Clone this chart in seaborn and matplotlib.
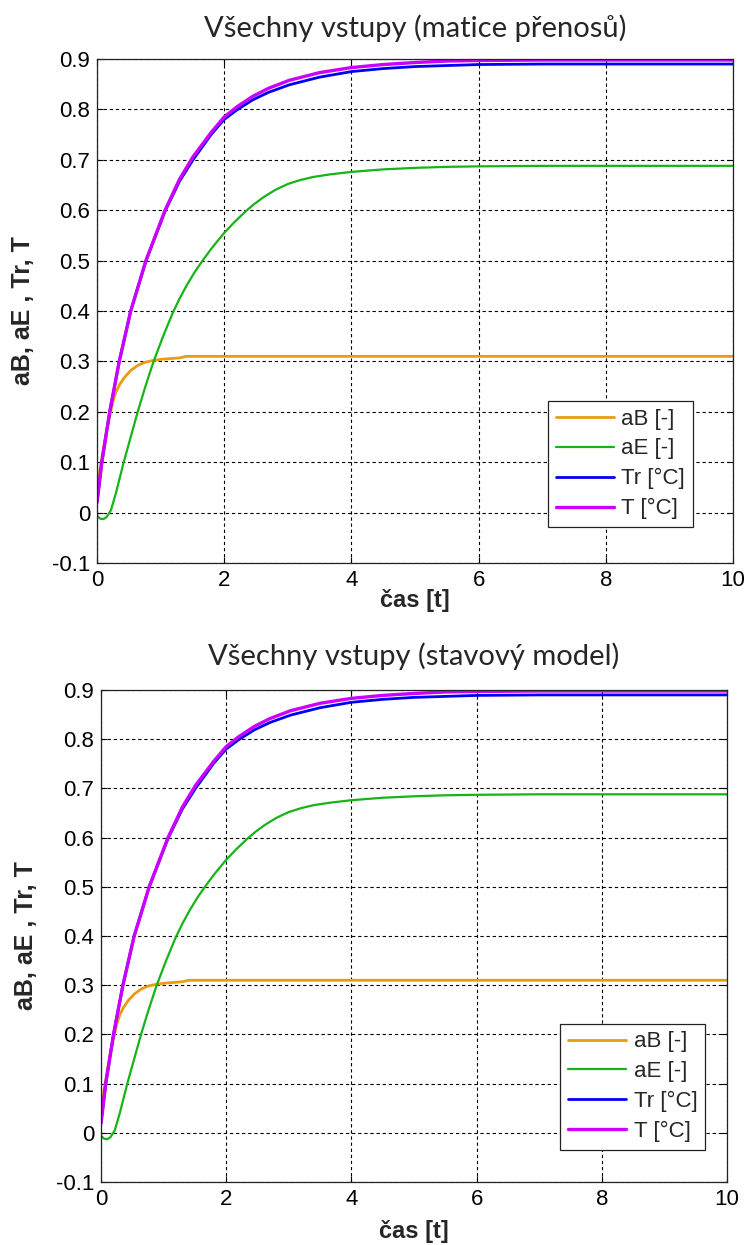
import matplotlib
matplotlib.use("Agg")
import matplotlib.pyplot as plt
import seaborn as sns
import pandas as pd

# ---------------- data ----------------
t_aB = [0, 0.05, 0.1, 0.15, 0.2, 0.25, 0.3, 0.36, 0.43, 0.53, 0.64, 0.75, 0.85, 1.0, 1.3,
        1.4, 2, 4, 6, 8, 10]
aB = [0.05, 0.088, 0.127, 0.162, 0.192, 0.22, 0.24, 0.255, 0.268, 0.282, 0.292, 0.298,
      0.301, 0.304, 0.307, 0.31, 0.31, 0.31, 0.31, 0.31, 0.31]

t_aE = [0, 0.05, 0.1, 0.15, 0.22, 0.3, 0.42, 0.53, 0.64, 0.76, 0.89, 1.04, 1.19, 1.3, 1.42,
        1.54, 1.66, 1.8, 2.0, 2.15, 2.33, 2.47, 2.62, 2.8, 3.0, 3.2, 3.4, 3.66, 4.0, 4.5, 5,
        5.5, 6, 7, 8, 10]
aE = [-0.006, -0.012, -0.013, -0.009, 0.005, 0.04, 0.10, 0.15, 0.20, 0.25, 0.30, 0.35,
      0.396, 0.425, 0.453, 0.478, 0.50, 0.524, 0.555, 0.575, 0.597, 0.612, 0.626, 0.640,
      0.652, 0.66, 0.666, 0.671, 0.676, 0.681, 0.684, 0.686, 0.687, 0.688, 0.688, 0.688]

t_T = [0, 0.076, 0.2, 0.35, 0.53, 0.77, 1.07, 1.3, 1.51, 1.8, 2.0, 2.2, 2.45, 2.7, 3.03,
       3.5, 4.0, 4.5, 5, 5.5, 6, 7, 8, 9, 10]
Tr = [0.02, 0.10, 0.20, 0.30, 0.40, 0.50, 0.598, 0.658, 0.70, 0.751, 0.78, 0.799, 0.819,
      0.834, 0.849, 0.864, 0.875, 0.881, 0.885, 0.887, 0.889, 0.89, 0.89, 0.89, 0.89]
T = [0.02, 0.10, 0.20, 0.30, 0.40, 0.50, 0.60, 0.662, 0.706, 0.755, 0.785, 0.805, 0.826,
     0.842, 0.858, 0.873, 0.883, 0.889, 0.893, 0.896, 0.897, 0.898, 0.898, 0.898, 0.898]

series_labels = ["aB [-]", "aE [-]", "Tr [°C]", "T [°C]"]
series_colors = ["#ea9c10", "#16b416", "#0000f5", "#cc00ff"]
series_widths = [2.0, 1.6, 2.0, 2.4]

x_ticks = [0, 2, 4, 6, 8, 10]
y_ticks = [-0.1, 0, 0.1, 0.2, 0.3, 0.4, 0.5, 0.6, 0.7, 0.8, 0.9]
y_tick_labels = ["-0.1", "0", "0.1", "0.2", "0.3", "0.4", "0.5", "0.6", "0.7", "0.8", "0.9"]

titles = ["Všechny vstupy (matice přenosů)", "Všechny vstupy (stavový model)"]
xlabel = "čas [t]"
ylabel = "aB, aE , Tr, T"

# ---------------- style ----------------
sns.set_style("ticks")
plt.rcParams["font.family"] = ["Liberation Sans", "DejaVu Sans"]

fig = plt.figure(figsize=(7.46, 12.45), dpi=100)
W, H = 746, 1245
ax1 = fig.add_axes([97 / W, 1 - 563 / H, 636 / W, 504 / H])
ax2 = fig.add_axes([101 / W, 1 - 1182 / H, 626 / W, 492 / H])

frames = [
    pd.DataFrame({"t": t_aB, "v": aB}),
    pd.DataFrame({"t": t_aE, "v": aE}),
    pd.DataFrame({"t": t_T, "v": Tr}),
    pd.DataFrame({"t": t_T, "v": T}),
]

layout = [
    dict(ax=ax1, title=titles[0], tpad=16, legend_anchor=(0.937, 0.071),
         ylab=(-0.097, 0.5), xlab=(0.5, -0.052)),
    dict(ax=ax2, title=titles[1], tpad=18, legend_anchor=(0.965, 0.065),
         ylab=(-0.100, 0.5), xlab=(0.5, -0.078)),
]

for cfg in layout:
    ax = cfg["ax"]
    for df, lab, col, lw in zip(frames, series_labels, series_colors, series_widths):
        sns.lineplot(data=df, x="t", y="v", ax=ax, color=col, linewidth=lw, label=lab,
                     estimator=None, sort=False)
    ax.set_xlim(0, 10)
    ax.set_ylim(-0.1, 0.9)
    ax.set_xticks(x_ticks)
    ax.set_xticklabels([str(v) for v in x_ticks])
    ax.set_yticks(y_ticks)
    ax.set_yticklabels(y_tick_labels)
    ax.tick_params(axis="both", which="both", direction="in", length=4, width=0.8,
                   labelsize=16, pad=5, top=True, right=True, colors="black")
    ax.grid(True, color="black", linestyle=(0, (3, 2.5)), linewidth=0.8)
    for s in ax.spines.values():
        s.set_color("#222222")
        s.set_linewidth(0.9)
        s.set_visible(True)
    ax.set_title(cfg["title"], fontfamily="Lato", fontsize=21, pad=cfg["tpad"])
    ax.set_xlabel(xlabel, fontsize=17, fontweight="bold")
    ax.set_ylabel(ylabel, fontsize=18, fontweight="bold")
    ax.xaxis.set_label_coords(*cfg["xlab"])
    ax.yaxis.set_label_coords(*cfg["ylab"])
    leg = ax.legend(loc="lower right", bbox_to_anchor=cfg["legend_anchor"], borderaxespad=0,
                    fontsize=16, handlelength=2.6, handletextpad=0.35, labelspacing=0.4,
                    borderpad=0.35, fancybox=False, framealpha=1, edgecolor="#222222")
    leg.get_frame().set_linewidth(0.9)

fig.savefig("out.png", dpi=100)
